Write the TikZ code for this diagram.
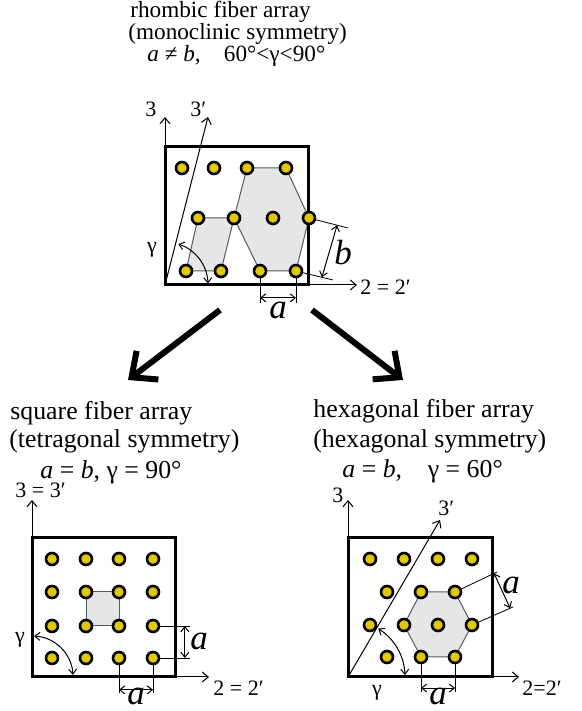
\documentclass[tikz,border=0pt]{standalone}
\usepackage{fontspec}
\setmainfont{Liberation Serif}
\usetikzlibrary{arrows.meta,calc,backgrounds}
\definecolor{ink}{HTML}{000000}
\definecolor{fibre}{HTML}{E2C800}
\definecolor{cellfill}{HTML}{E6E6E6}
\definecolor{cellline}{HTML}{5A5A5A}
\tikzset{
  fiber/.style={circle, draw=ink, line width=1.3pt, fill=fibre, minimum size=6pt, inner sep=0pt},
  cell/.style={fill=cellfill, draw=cellline, line width=0.5pt},
  boxline/.style={draw=ink, line width=1.5pt},
  axisarrow/.style={-{Straight Barb[length=3pt,width=5pt]}, line width=0.5pt, draw=ink},
  dimline/.style={line width=0.4pt, draw=ink},
  dimarrow/.style={{Straight Barb[length=2.5pt,width=4pt]}-{Straight Barb[length=2.5pt,width=4pt]}, line width=0.5pt, draw=ink},
  bigarrow/.style={-{Straight Barb[length=10pt,width=18pt]}, line width=3pt, draw=ink},
  toptitle/.style={font=\fontsize{11.6}{13}\selectfont, anchor=base west, inner sep=0pt},
  subtitle/.style={font=\fontsize{12.9}{15}\selectfont, anchor=base west, inner sep=0pt},
  axlabel/.style={font=\fontsize{11}{13}\selectfont, anchor=base west, inner sep=0pt},
  dimlabel/.style={font=\fontsize{17.5}{20}\selectfont\itshape, inner sep=0pt},
  anglabel/.style={font=\fontsize{11}{13}\selectfont, inner sep=0pt}
}

\begin{document}
\begin{tikzpicture}[x=0.5pt,y=0.5pt]
\useasboundingbox (0,0) rectangle (582,711);

% rhombic array
\node[toptitle] (rt1) at (130,693) {rhombic fiber array};
\node[toptitle] (rt2) at (128,671) {(monoclinic symmetry)};
\node[toptitle] (rt3) at (147,649) {\textit{a} ≠ \textit{b},\quad 60°<γ<90°};
\coordinate (o1) at (165,426);
\coordinate (r3) at (165,594);
\coordinate (r3p) at (208,594);
\coordinate (r2) at (357,426);
\foreach \x [count=\i] in {182,214,247,286} \node[fiber] (t1\i) at (\x,543) {};
\foreach \x [count=\i] in {198,234,273,309} \node[fiber] (t2\i) at (\x,493) {};
\foreach \x [count=\i] in {186,221,260,296} \node[fiber] (t3\i) at (\x,440) {};
\begin{scope}[on background layer]
  \draw[cell] (t13.center) -- (t14.center) -- (t24.center) -- (t34.center) -- (t33.center) -- (t22.center) -- cycle;
  \draw[cell] (t21.center) -- (t22.center) -- (t32.center) -- (t31.center) -- cycle;
  \draw[axisarrow] (o1) -- (r3);
  \draw[axisarrow] (o1) -- (r3p);
  \draw[axisarrow] (o1) -- (r2);
  \draw[boxline] (o1) rectangle (308,564);
  \coordinate (tb1) at (348,483);
  \coordinate (tb2) at (333,431);
  \draw[dimline] (t24.center) -- (tb1);
  \draw[dimline] (t34.center) -- (tb2);
  \draw[dimarrow] ($(t24)!0.72!(tb1)$) -- ($(t34)!0.70!(tb2)$);
  \coordinate (ta1) at (260,408);
  \coordinate (ta2) at (296,408);
  \draw[dimline] (t33.center) -- (ta1);
  \draw[dimline] (t34.center) -- (ta2);
  \draw[dimarrow] ($(t33)!0.84!(ta1)$) -- ($(t34)!0.84!(ta2)$);
  \draw[dimarrow] ($(o1)+(72:43)$) arc[start angle=72, end angle=2, radius=43];
\end{scope}
\node[axlabel] (l3) at (145,594) {3};
\node[axlabel] (l3p) at (190,594) {3′};
\node[axlabel] (l2) at (360,416) {2 = 2′};
\node[dimlabel] (lb) at (343,458) {b};
\node[dimlabel] (la) at (278,401) {a};
\node[anglabel] (lg) at (152,461) {γ};

% arrows to the two limit cases
\coordinate (bl1) at (220,401);
\coordinate (bl2) at (128,331);
\coordinate (br1) at (312,401);
\coordinate (br2) at (403,331);
\draw[bigarrow] (bl1) -- (bl2);
\draw[bigarrow] (br1) -- (br2);

% square array
\node[subtitle] (st1) at (10,291) {square fiber array};
\node[subtitle] (st2) at (9,263) {(tetragonal symmetry)};
\node[subtitle] (st3) at (40,232) {\textit{a} = \textit{b}, γ = 90°};
\coordinate (o2) at (32,34);
\coordinate (s3) at (32,211);
\coordinate (s2) at (209,34);
\foreach \y [count=\r] in {152,119,85,53}
  \foreach \x [count=\c] in {52,86,119,153}
    \node[fiber] (s\r\c) at (\x,\y) {};
\begin{scope}[on background layer]
  \draw[cell] (s22.center) -- (s23.center) -- (s33.center) -- (s32.center) -- cycle;
  \draw[axisarrow] (o2) -- (s3);
  \draw[axisarrow] (o2) -- (s2);
  \draw[boxline] (o2) rectangle (175,173);
  \coordinate (sv1) at (190,85);
  \coordinate (sv2) at (190,53);
  \draw[dimline] (s34.center) -- (sv1);
  \draw[dimline] (s44.center) -- (sv2);
  \draw[dimarrow] ($(s34)!0.86!(sv1)$) -- ($(s44)!0.86!(sv2)$);
  \coordinate (sh1) at (119,18);
  \coordinate (sh2) at (153,18);
  \draw[dimline] (s43.center) -- (sh1);
  \draw[dimline] (s44.center) -- (sh2);
  \draw[dimarrow] ($(s43)!0.91!(sh1)$) -- ($(s44)!0.91!(sh2)$);
  \draw[dimarrow] ($(o2)+(87:41)$) arc[start angle=87, end angle=3, radius=41];
\end{scope}
\node[axlabel] (m3) at (15,213) {3 = 3′};
\node[axlabel] (m2) at (213,16) {2 = 2′};
\node[dimlabel] (mav) at (199,70) {a};
\node[dimlabel] (mah) at (136,15) {a};
\node[anglabel] (mg) at (20,71) {γ};

% hexagonal array
\node[subtitle] (ht1) at (313,293) {hexagonal fiber array};
\node[subtitle] (ht2) at (313,263) {(hexagonal symmetry)};
\node[subtitle] (ht3) at (342,233) {\textit{a} = \textit{b},\quad γ = 60°};
\coordinate (o3) at (348,34);
\coordinate (x3) at (348,211);
\coordinate (x3p) at (440,191);
\coordinate (x2) at (519,34);
\foreach \x [count=\i] in {370,404,438,472} \node[fiber] (h1\i) at (\x,152) {};
\foreach \x [count=\i] in {387,421,455} \node[fiber] (h2\i) at (\x,119) {};
\foreach \x [count=\i] in {370,404,438,472} \node[fiber] (h3\i) at (\x,86) {};
\foreach \x [count=\i] in {387,421,455} \node[fiber] (h4\i) at (\x,54) {};
\begin{scope}[on background layer]
  \draw[cell] (h22.center) -- (h23.center) -- (h34.center) -- (h43.center) -- (h42.center) -- (h32.center) -- cycle;
  \draw[axisarrow] (o3) -- (x3);
  \draw[axisarrow] (o3) -- (x3p);
  \draw[axisarrow] (o3) -- (x2);
  \draw[boxline] (o3) rectangle (492,173);
  \coordinate (hs1) at (497,139);
  \coordinate (hs2) at (513,104);
  \draw[dimline] (h23.center) -- (hs1);
  \draw[dimline] (h34.center) -- (hs2);
  \draw[dimarrow] ($(h23)!0.93!(hs1)$) -- ($(h34)!0.93!(hs2)$);
  \coordinate (hh1) at (421,19);
  \coordinate (hh2) at (455,19);
  \draw[dimline] (h42.center) -- (hh1);
  \draw[dimline] (h43.center) -- (hh2);
  \draw[dimarrow] ($(h42)!0.886!(hh1)$) -- ($(h43)!0.886!(hh2)$);
  \draw[dimarrow] ($(o3)+(58:57)$) arc[start angle=58, end angle=2, radius=57];
\end{scope}
\node[axlabel] (n3) at (332,208) {3};
\node[axlabel] (n3p) at (438,195) {3′};
\node[axlabel] (n2) at (522,16) {2=2′};
\node[dimlabel] (nas) at (511,126) {a};
\node[dimlabel] (nah) at (438,15) {a};
\node[anglabel] (ng) at (377,18) {γ};
\end{tikzpicture}
\end{document}
